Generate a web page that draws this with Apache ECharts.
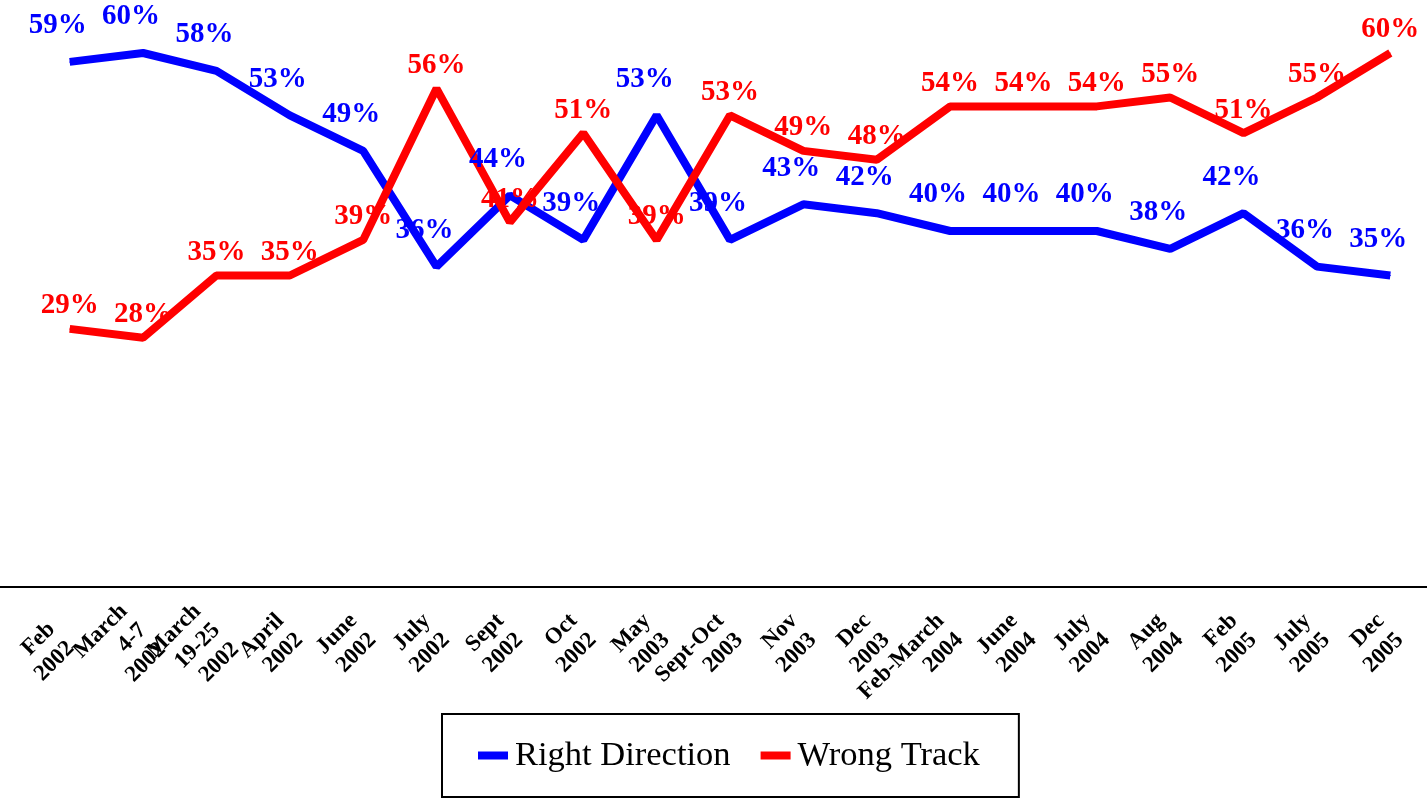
<!DOCTYPE html>
<html>
<head>
<meta charset="utf-8">
<script src="https://cdn.jsdelivr.net/npm/echarts@6/dist/echarts.min.js"></script>
<style>
  html, body { margin: 0; padding: 0; background: #fff; }
  #chart { width: 1427px; height: 799px; }
</style>
</head>
<body>
<div id="chart"></div>
<script>
// survey dates (x axis)
var categories = [
  "Feb\n2002", "March\n4-7\n2002", "March\n19-25\n2002", "April\n2002", "June\n2002",
  "July\n2002", "Sept\n2002", "Oct\n2002", "May\n2003", "Sept-Oct\n2003",
  "Nov\n2003", "Dec\n2003", "Feb-March\n2004", "June\n2004", "July\n2004",
  "Aug\n2004", "Feb\n2005", "July\n2005", "Dec\n2005"
];
var rightDirection = [59, 60, 58, 53, 49, 36, 44, 39, 53, 39, 43, 42, 40, 40, 40, 38, 42, 36, 35];
var wrongTrack = [29, 28, 35, 35, 39, 56, 41, 51, 39, 53, 49, 48, 54, 54, 54, 55, 51, 55, 60];

var serif = "'Liberation Serif', 'Times New Roman', serif";

// first label is nudged left like in the original
var axisData = categories.map(function (c, i) {
  return i === 0 ? { value: c, textStyle: { padding: [0, 12, 3, 0] } } : c;
});

var myChart = echarts.init(document.getElementById("chart"));
myChart.setOption({
  animation: false,
  grid: { left: 33, right: 0, top: 53, bottom: 212, outerBoundsMode: "none", containLabel: false },
  legend: {
    left: 442,
    top: 714,
    orient: "horizontal",
    icon: "rect",
    itemWidth: 30,
    itemHeight: 8,
    itemGap: 30,
    padding: [24, 39, 24, 36],
    borderColor: "#000",
    borderWidth: 2,
    textStyle: { fontFamily: serif, fontSize: 34.5, color: "#000", padding: [0, 0, 0, 2] },
    data: ["Right Direction", "Wrong Track"]
  },
  xAxis: {
    type: "category",
    data: axisData,
    boundaryGap: true,
    axisLine: { show: true, lineStyle: { color: "#000", width: 2 } },
    axisTick: { show: false },
    axisLabel: {
      interval: 0,
      rotate: 45,
      margin: 40,
      padding: [46, 0, 0, 0],
      fontFamily: serif,
      fontWeight: "bold",
      fontSize: 23,
      lineHeight: 27,
      color: "#000"
    }
  },
  yAxis: { type: "value", min: 0, max: 60, show: false },
  graphic: [
    // axis line continues to the left edge
    { type: "line", shape: { x1: 0, y1: 587, x2: 34, y2: 587 }, style: { stroke: "#000", lineWidth: 2 } }
  ],
  series: [
    {
      name: "Right Direction",
      type: "line",
      data: rightDirection,
      symbol: "circle",
      symbolSize: 1,
      showSymbol: true,
      color: "#0000ff",
      itemStyle: { color: "#0000ff" },
      lineStyle: { width: 8, color: "#0000ff" },
      label: {
        show: true,
        position: "top",
        offset: [-12, -16],
        formatter: "{c}%",
        fontFamily: serif,
        fontWeight: "bold",
        fontSize: 29,
        color: "#0000ff"
      }
    },
    {
      name: "Wrong Track",
      type: "line",
      data: wrongTrack,
      symbol: "circle",
      symbolSize: 1,
      showSymbol: true,
      color: "#ff0000",
      itemStyle: { color: "#ff0000" },
      lineStyle: { width: 8, color: "#ff0000" },
      label: {
        show: true,
        position: "top",
        offset: [0, -3],
        formatter: "{c}%",
        fontFamily: serif,
        fontWeight: "bold",
        fontSize: 29,
        color: "#ff0000"
      }
    }
  ]
});
</script>
</body>
</html>
